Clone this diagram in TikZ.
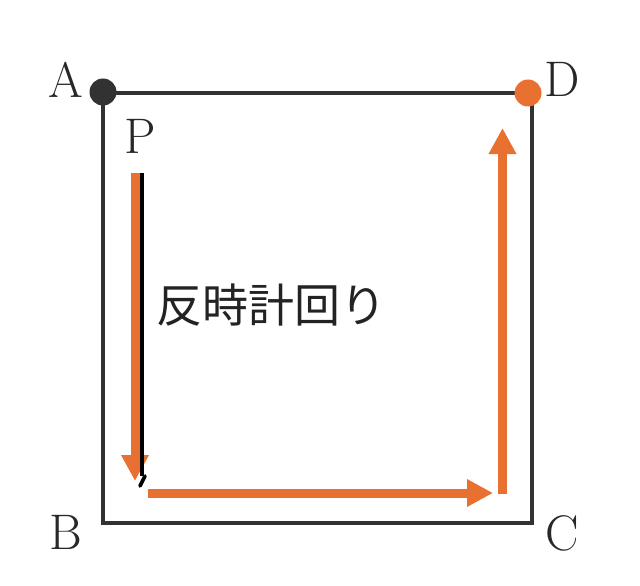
\documentclass[tikz,border=0pt]{standalone}
\usepackage{fontspec}
\usetikzlibrary{arrows.meta}
\newfontfamily\cjk{Noto Sans CJK JP}
\definecolor{orng}{RGB}{232,112,48}
\definecolor{edge}{RGB}{50,50,50}
\tikzset{
  sqline/.style={draw=edge,line width=3.4pt},
  orarrow/.style={draw=orng,line width=9pt,-{Triangle[width=26pt,length=26pt]}},
  lbl/.style={inner sep=0pt,font=\fontsize{50}{50}\selectfont,text=edge!80!black},
  dotnode/.style={circle,inner sep=0pt,minimum size=27pt}
}
\begin{document}
\begin{tikzpicture}[x=1pt,y=-1pt]
\useasboundingbox (0,0) rectangle (640,586);
\coordinate (A) at (103,93);
\coordinate (B) at (103,523);
\coordinate (C) at (532,523);
\coordinate (D) at (532,93);
\draw[sqline] (A) -- (B) -- (C) -- (D) -- cycle;
\node[dotnode,fill=edge] (dA) at (103,92) {};
\node[dotnode,fill=orng] (dD) at (528,93) {};
\node[lbl] (lA) at (66,80) {A};
\node[lbl] (lD) at (562,79) {D};
\node[lbl] (lB) at (66,532) {B};
\node[lbl] (lC) at (562,533) {C};
\node[lbl] (lP) at (140,136) {P};
% arrows
\coordinate (s1) at (135,173);
\coordinate (e1) at (135,481);
\coordinate (s2) at (148,493);
\coordinate (e2) at (493,493);
\coordinate (s3) at (502.5,494);
\coordinate (e3) at (502.5,128);
\draw[orarrow] (s1) -- (e1);
\coordinate (k1) at (142,173);
\coordinate (k2) at (142,476);
\coordinate (k3) at (140,486);
\coordinate (k4) at (145,476);
\draw[draw=black,line width=3.4pt] (k1) -- (k2);
\draw[draw=black,line width=3.6pt,line cap=round] (k3) -- (k4);
\draw[orarrow] (s2) -- (e2);
\draw[orarrow] (s3) -- (e3);
\node[anchor=base west,inner sep=0pt,font=\cjk\fontsize{46}{46}\selectfont,text=edge!70!black] (txt) at (156,322) {反時計回り};
\end{tikzpicture}
\end{document}
